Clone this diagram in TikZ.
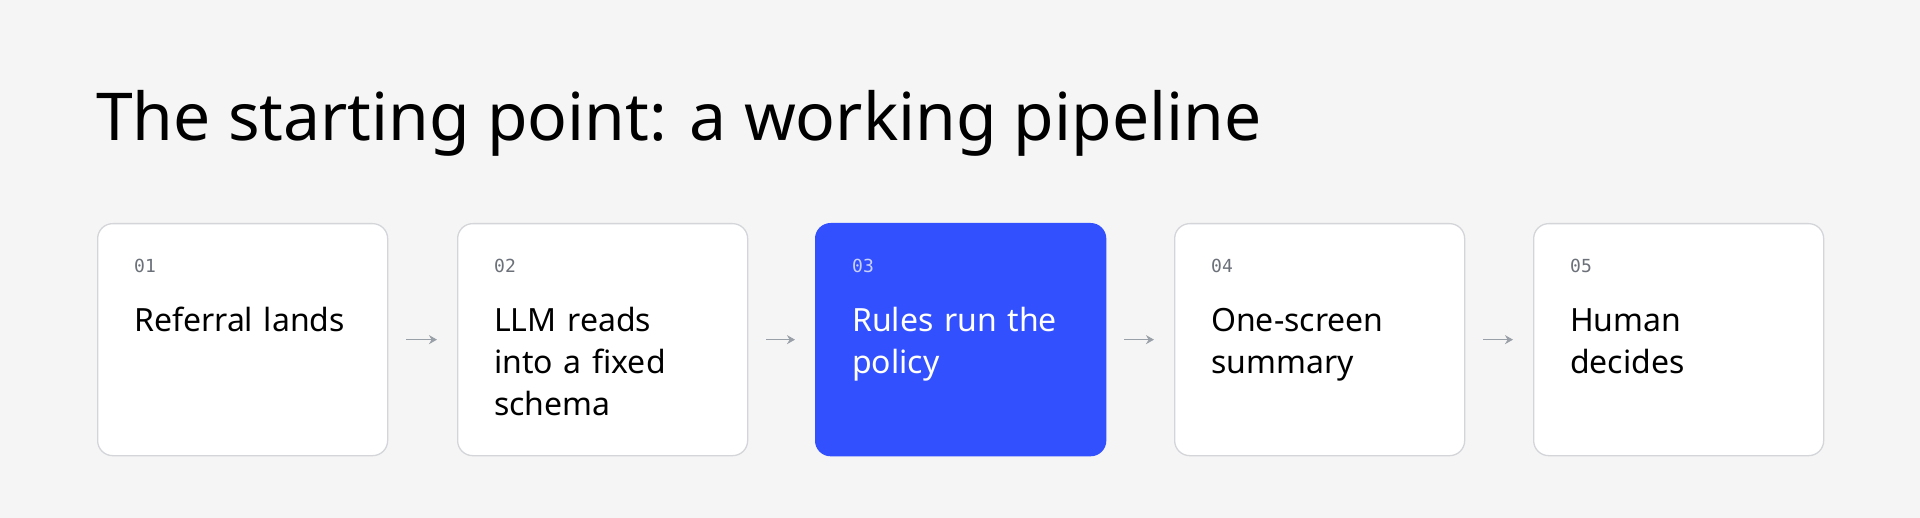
\documentclass[tikz,border=0pt]{standalone}
\usepackage{fontspec}
\setmainfont{Noto Sans}
\newfontfamily\monofont{DejaVu Sans Mono}
\usetikzlibrary{arrows.meta, positioning}
\definecolor{bgGray}{HTML}{F5F5F5}
\definecolor{boxLine}{HTML}{D3D5D9}
\definecolor{stepBlue}{HTML}{3350FF}
\definecolor{numGray}{HTML}{6B7079}
\definecolor{numLight}{HTML}{C9D1FF}
\definecolor{arrowGray}{HTML}{9AA0A8}

\begin{document}
\begin{tikzpicture}[x=1pt, y=-1pt,
    stage/.style={rectangle, rounded corners=15pt, draw=boxLine, line width=1.3pt, fill=white,
                 minimum width=290pt, minimum height=232pt, anchor=north west, inner sep=0pt},
    hot/.style={draw=stepBlue, fill=stepBlue},
    num/.style={anchor=base west, inner sep=0pt, font=\monofont\fontsize{18}{18}\selectfont, text=numGray},
    caption/.style={anchor=base west, inner sep=0pt, align=left, text width=235pt,
                  font=\fontsize{32}{42}\selectfont\bfseries},
    flow/.style={-{Stealth[length=8pt,width=9pt]}, draw=arrowGray, line width=1.6pt,
                 shorten <=18pt, shorten >=20pt}]
\fill[bgGray] (0,0) rectangle (1920,518);
\useasboundingbox (0,0) rectangle (1920,518);

\node (title) [anchor=base west, inner sep=0pt, font=\fontsize{66}{66}\selectfont\bfseries]
    at (96,141) {The starting point: a working pipeline};

\node (s1) [stage] at (97,223) {};
\node (s2) [stage] at (457,223) {};
\node (s3) [stage, hot] at (815,223) {};
\node (s4) [stage] at (1174,223) {};
\node (s5) [stage] at (1533,223) {};

\node (n1) [num] at ([shift={(37,50)}]s1.north west) {01};
\node (n2) [num] at ([shift={(37,50)}]s2.north west) {02};
\node (n3) [num, text=numLight] at ([shift={(37,50)}]s3.north west) {03};
\node (n4) [num] at ([shift={(37,50)}]s4.north west) {04};
\node (n5) [num] at ([shift={(37,50)}]s5.north west) {05};

\node (t1) [caption] at ([shift={(37,109)}]s1.north west) {Referral lands};
\node (t2) [caption] at ([shift={(37,109)}]s2.north west) {LLM reads\\into a fixed\\schema};
\node (t3) [caption, text=white] at ([shift={(37,109)}]s3.north west) {Rules run the\\policy};
\node (t4) [caption] at ([shift={(37,109)}]s4.north west) {One-screen\\summary};
\node (t5) [caption] at ([shift={(37,109)}]s5.north west) {Human\\decides};

\foreach \a/\b in {s1/s2, s2/s3, s3/s4, s4/s5}
    \draw[flow] (\a.east) -- (\b.west);
\end{tikzpicture}
\end{document}
